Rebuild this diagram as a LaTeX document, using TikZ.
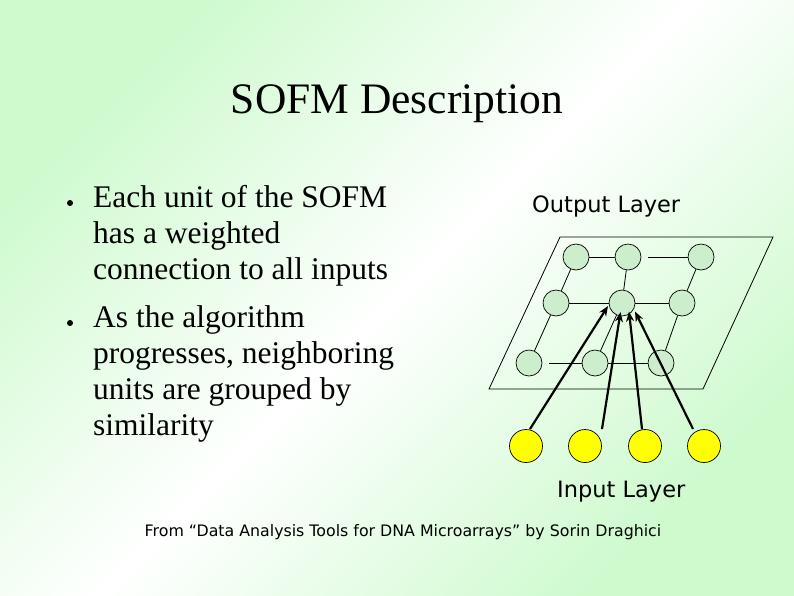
\documentclass[tikz,border=0pt]{standalone}
\usepackage{fontspec}
\setmainfont{Liberation Serif}
\newfontfamily\labelfont{DejaVu Sans}
\usetikzlibrary{arrows.meta,calc}
\definecolor{bggreen}{RGB}{206,250,206}
\definecolor{unitgreen}{RGB}{204,238,204}
\definecolor{inyellow}{RGB}{255,255,0}
\tikzset{
  unit/.style={circle,draw=black,line width=0.7pt,fill=unitgreen,minimum size=26pt,inner sep=0pt},
  inunit/.style={circle,draw=black,line width=0.7pt,fill=inyellow,minimum size=33pt,inner sep=0pt},
  gridline/.style={line width=0.8pt},
  weight/.style={line width=2.2pt,-{Stealth[length=10pt,width=8pt]}},
  bodytext/.style={anchor=base west,inner sep=0pt,font=\fontsize{31.5}{36}\selectfont},
  layertext/.style={anchor=base west,inner sep=0pt,font=\labelfont\fontsize{22.5}{26}\selectfont},
}
\begin{document}
\begin{tikzpicture}[x=1pt,y=-1pt]
\shade[left color=bggreen,right color=bggreen,middle color=white,shading angle=45] (0,0) rectangle (794,595);
\useasboundingbox (0,0) rectangle (794,595);

% title
\node[anchor=base,inner sep=0pt,font=\fontsize{43.5}{48}\selectfont] (title) at (397,113) {SOFM Description};

% bullets
\fill (70,203) circle (3);
\fill (70,323) circle (3);
\node[bodytext] (b1l1) at (93,207) {Each unit of the SOFM};
\node[bodytext] (b1l2) at (93,243) {has a weighted};
\node[bodytext] (b1l3) at (93,279) {connection to all inputs};
\node[bodytext] (b2l1) at (93,327) {As the algorithm};
\node[bodytext] (b2l2) at (93,363) {progresses, neighboring};
\node[bodytext] (b2l3) at (93,399) {units are grouped by};
\node[bodytext] (b2l4) at (93,435) {similarity};

% output layer plane
\draw[gridline] (560,237) -- (773,237) -- (703,389) -- (489,389) -- cycle;
\node[layertext] (outlabel) at (532,212) {Output Layer};

\node[unit] (g11) at (576,257) {};
\node[unit] (g12) at (628,257) {};
\node[unit] (g13) at (701,257) {};
\node[unit] (g21) at (556,303) {};
\node[unit] (g22) at (622,303) {};
\node[unit] (g23) at (682,303) {};
\node[unit] (g31) at (529,363) {};
\node[unit] (g32) at (595,363) {};
\node[unit] (g33) at (661,363) {};

\draw[gridline] (g11) -- (g12);
\draw[gridline,shorten <=7pt] (g12) -- (g13);
\draw[gridline] (g21) -- (g22);
\draw[gridline] (g22) -- (g23);
\draw[gridline,shorten <=7pt] (g31) -- (g32);
\draw[gridline] (g32) -- (g33);
\draw[gridline] (g11) -- (g21);
\draw[gridline] (g12) -- (g22);
\draw[gridline] (g13) -- (g23);
\draw[gridline] (g21) -- (g31);
\draw[gridline] (g22) -- (g32);
\draw[gridline] (g23) -- (g33);

% input layer
\node[inunit] (y1) at (526,446) {};
\node[inunit] (y2) at (585,446) {};
\node[inunit] (y3) at (645,446) {};
\node[inunit] (y4) at (704,446) {};
\node[layertext] (inlabel) at (557,497) {Input Layer};

\coordinate (s1) at (530,429);
\coordinate (s2) at (602,429);
\coordinate (s3) at (642,429);
\coordinate (s4) at (693,429);
\draw[weight] (s1) -- ($(g22)+(-14,3)$);
\draw[weight] (s2) -- ($(g22)+(-1.5,9)$);
\draw[weight] (s3) -- ($(g22)+(7,8.5)$);
\draw[weight] (s4) -- ($(g22)+(13,8.5)$);

% footer
\node[anchor=base,inner sep=0pt,font=\labelfont\fontsize{15.8}{18}\selectfont] (footer) at (403,536) {From “Data Analysis Tools for DNA Microarrays” by Sorin Draghici};
\end{tikzpicture}
\end{document}
